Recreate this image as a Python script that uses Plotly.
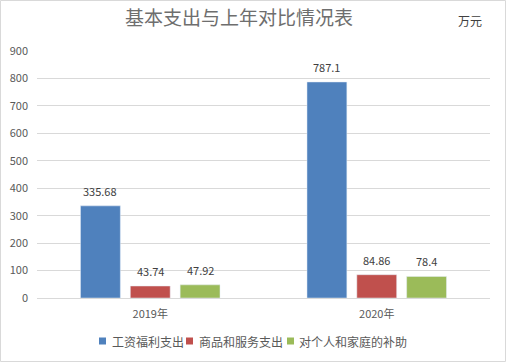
import plotly.graph_objects as go

categories = ["2019年", "2020年"]
series_names = ["工资福利支出", "商品和服务支出", "对个人和家庭的补助"]
wage = [335.68, 787.1]
goods = [43.74, 84.86]
subsidy = [47.92, 78.4]
colors = ["#4F81BD", "#C0504D", "#9BBB59"]
y_ticks = [0, 100, 200, 300, 400, 500, 600, 700, 800, 900]

FONT = "Noto Sans CJK SC"
W, H = 506, 362
ml, mr, mt, mb = 37, 16, 51, 64
pw, ph = W - ml - mr, H - mt - mb
BARGAP, GROUPGAP = 0.34, 0.2
slot = pw / len(categories) * (1 - BARGAP) / len(series_names)

fig = go.Figure()
annotations = []
for i, (name, vals, col) in enumerate(zip(series_names, [wage, goods, subsidy], colors)):
    fig.add_trace(go.Bar(
        x=categories, y=vals, name=name, marker_color=col,
        showlegend=False, hoverinfo="x+y+name",
    ))
    for c, v in zip(categories, vals):
        annotations.append(dict(text=f"{v:g}", x=c, y=v, xref="x", yref="y",
                                xshift=(i - 1) * slot, yshift=15, showarrow=False,
                                xanchor="center", yanchor="middle",
                                font=dict(size=11, color="#404040", family=FONT)))


def px(x):
    return (x - ml) / pw


def py(y):
    return (H - mb - y) / ph


# manual compact legend (Excel style)
legend_x = [(99, 111), (186, 198), (287, 298)]
legend_y = 341
shapes = [dict(type="rect", xref="paper", yref="paper",
               x0=-(ml - 0.5) / pw, x1=1 + (mr - 0.5) / pw,
               y0=-(mb - 0.5) / ph, y1=1 + (mt - 0.5) / ph,
               line=dict(color="#d9d9d9", width=1), layer="below")]
annotations.append(dict(text="万元", xref="paper", yref="paper",
                        x=px(470), y=py(20), showarrow=False,
                        xanchor="center", yanchor="middle",
                        font=dict(size=12, color="#404040", family=FONT)))
for (sx, tx), name, col in zip(legend_x, series_names, colors):
    shapes.append(dict(type="rect", xref="paper", yref="paper",
                       x0=px(sx), x1=px(sx + 7), y0=py(legend_y - 3.5), y1=py(legend_y + 3.5),
                       fillcolor=col, line=dict(width=0)))
    annotations.append(dict(text=name, xref="paper", yref="paper",
                            x=px(tx - 1), y=py(legend_y), showarrow=False,
                            xanchor="left", yanchor="middle",
                            font=dict(size=12, color="#595959", family=FONT)))

fig.update_layout(
    width=W, height=H,
    margin=dict(l=ml, r=mr, t=mt, b=mb, autoexpand=False),
    paper_bgcolor="white", plot_bgcolor="white",
    barmode="group", bargap=BARGAP, bargroupgap=GROUPGAP,
    font=dict(family=FONT, color="#595959", size=11),
    title=dict(text="基本支出与上年对比情况表", x=239 / W, xanchor="center",
               y=1 - 18 / H, yanchor="middle",
               font=dict(size=19, color="#6e6e6e", family=FONT)),
    showlegend=False,
    xaxis=dict(showgrid=False, showline=True, linecolor="#d9d9d9", ticks="",
               automargin=False, ticklabelstandoff=6,
               tickfont=dict(size=11, color="#595959")),
    yaxis=dict(range=[0, 900], tickvals=y_ticks, showgrid=True, gridcolor="#d9d9d9",
               zeroline=False, showline=False, ticks="", ticklabelstandoff=8,
               automargin=False, tickfont=dict(size=11, color="#595959")),
    annotations=annotations,
    shapes=shapes,
)

fig.write_html("out.html", config={"displayModeBar": False},
               post_script="document.body.style.margin='0';document.body.style.overflow='hidden';")
